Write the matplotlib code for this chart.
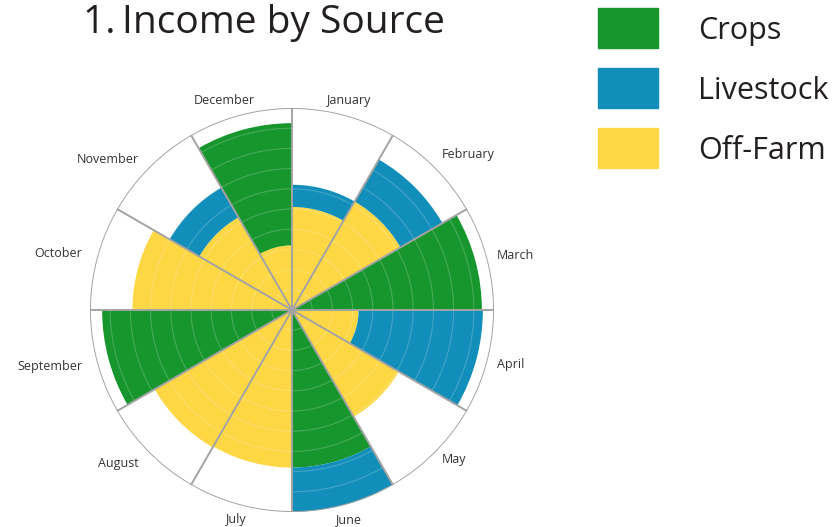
import numpy as np
import matplotlib.pyplot as plt
from matplotlib.patches import Rectangle

plt.rcParams['font.family'] = ['Open Sans', 'DejaVu Sans']

months = ['January', 'February', 'March', 'April', 'May', 'June',
          'July', 'August', 'September', 'October', 'November', 'December']
off_farm = [5.1, 6.2, 0, 3.3, 6.1, 0, 7.8, 7.85, 0, 7.9, 5.3, 3.2]
crops = [0, 0, 9.4, 0, 0, 7.8, 0, 0, 9.4, 0, 0, 6.05]
livestock = [1.1, 2.4, 0, 6.15, 0, 2.2, 0, 0, 0, 0, 1.7, 0]

series = ['Crops', 'Livestock', 'Off-Farm']
colors = {'Crops': '#18962e', 'Livestock': '#128eba', 'Off-Farm': '#fdd744'}
line_gray = '#a3a3a3'

W, H = 840, 527
fig = plt.figure(figsize=(W / 100, H / 100), dpi=100)

# polar area: centre (292, 310), radius 202 px
cx, cy, R = 292, 310, 202
ax = fig.add_axes([(cx - R) / W, (H - cy - R) / H, 2 * R / W, 2 * R / H],
                  projection='polar')
ax.set_theta_zero_location('N')
ax.set_theta_direction(-1)
ax.set_ylim(0, 10)

n = len(months)
step = 2 * np.pi / n
theta = np.arange(n) * step + step / 2

off = np.array(off_farm)
crp = np.array(crops)
liv = np.array(livestock)

ax.bar(theta, off, width=step, bottom=0, color=colors['Off-Farm'], linewidth=0, zorder=2)
ax.bar(theta, crp, width=step, bottom=off, color=colors['Crops'], linewidth=0, zorder=2)
ax.bar(theta, liv, width=step, bottom=off + crp, color=colors['Livestock'], linewidth=0, zorder=2)

# faint rings over the wedges
ring_t = np.linspace(0, 2 * np.pi, 400)
for r in range(1, 10):
    ax.plot(ring_t, np.full_like(ring_t, r), color='white', lw=0.8, alpha=0.2, zorder=3)

# month dividers and rim
for k in range(n):
    ax.plot([k * step, k * step], [0, 10], color=line_gray, lw=1.4, zorder=4)
ax.plot(ring_t, np.full_like(ring_t, 10), color=line_gray, lw=1.4, zorder=4)

ax.grid(False)
ax.set_xticks([])
ax.set_yticks([])
ax.spines['polar'].set_visible(False)

# month names around the rim
for t, name in zip(theta, months):
    deg = np.degrees(t)
    if 20 < deg < 160:
        ha, r = 'left', 10.5
    elif 200 < deg < 340:
        ha, r = 'right', 10.75
    else:
        ha, r = 'center', 10.75
    dx, dy = 0, 0
    if 30 < deg < 60:
        dy = 4
    elif 300 < deg < 330:
        dy = -2
    elif deg > 340:
        dx = -8
    ax.annotate(name, (t, r), xytext=(dx, dy), textcoords='offset points',
                ha=ha, va='center', fontsize=9, color='#333333', zorder=5,
                annotation_clip=False)

fig.text(83 / W, 1 - 33 / H, '1.\u2009Income by Source', fontsize=28,
         color='#231f20', va='baseline', ha='left')

# legend boxes
for i, s in enumerate(series):
    top = 8 + 60 * i
    fig.add_artist(Rectangle((598 / W, 1 - (top + 40) / H), 60 / W, 40 / H,
                             transform=fig.transFigure, color=colors[s]))
    fig.text(698 / W, 1 - (top + 23) / H, s, fontsize=22, color='#231f20',
             va='center', ha='left')

fig.savefig('out.png', dpi=100)
